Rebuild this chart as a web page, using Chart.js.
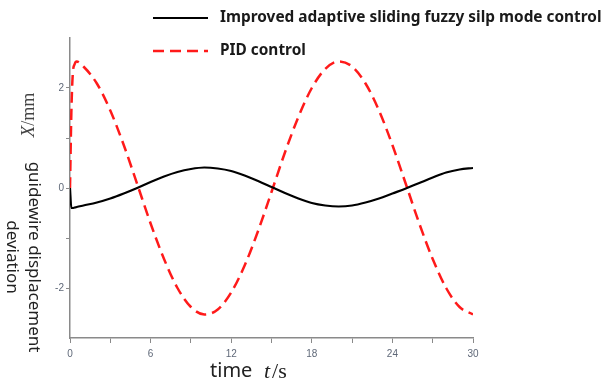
<!DOCTYPE html>
<html>
<head>
<meta charset="utf-8">
<script src="https://cdn.jsdelivr.net/npm/chart.js@4.4.1/dist/chart.umd.min.js"></script>
<style>
    html, body { margin: 0; padding: 0; background: #ffffff; }
    #wrap { width: 607px; height: 385px; position: relative; }
</style>
</head>
<body>
<div id="wrap"><canvas id="deviation-chart"></canvas></div>
<script>
// tempo (s)
var timeValues = [0, 0.1, 0.2, 0.35, 0.5, 1, 2, 3, 4, 5, 6, 7, 8, 9, 10,
    11, 12, 13, 14, 15, 16, 17, 18, 19, 20, 21, 22, 23, 24, 25, 26, 27, 28, 29, 30];

// desvio (mm) - controle melhorado
var smcValues = [0, -0.40, -0.40, -0.39, -0.38, -0.35, -0.29, -0.21, -0.11, 0.0, 0.12, 0.23, 0.32, 0.38, 0.41,
    0.39, 0.34, 0.25, 0.14, 0.02, -0.10, -0.21, -0.30, -0.35, -0.37, -0.35, -0.29, -0.21, -0.11, -0.01, 0.10, 0.21, 0.31, 0.37, 0.40];

// desvio (mm) - controle PID
var pidValues = [0, 1.5, 2.25, 2.48, 2.53, 2.43, 2.09, 1.55, 0.86, 0.08, -0.71, -1.42, -2.00, -2.38, -2.53,
    -2.43, -2.09, -1.55, -0.86, -0.08, 0.71, 1.42, 2.00, 2.38, 2.53, 2.43, 2.09, 1.55, 0.86, 0.08, -0.71, -1.42, -2.00, -2.38, -2.53];

var seriesLabels = ['Improved adaptive sliding fuzzy silp mode control', 'PID control'];
var xTicks = [0, 3, 6, 9, 12, 15, 18, 21, 24, 27, 30];
var xLabelled = [0, 6, 12, 18, 24, 30];
var yTicks = [-2, -1, 0, 1, 2];
var yLabelled = [-2, 0, 2];

/**
 * Junta tempo e valores em pontos {x, y}
 * @param {array} values
 */
function toPoints(values) {
    return values.map(function(v, i) {
        return { x: timeValues[i], y: v };
    });
}

/**
 * Legenda em duas linhas, alinhada como no original
 */
var legendPlugin = {
    id: 'stackedLegend',
    afterDraw: function(chart) {
        let ctx = chart.ctx;
        let rows = [18, 51];
        ctx.save();
        chart.data.datasets.forEach(function(ds, i) {
            ctx.beginPath();
            ctx.strokeStyle = ds.borderColor;
            ctx.lineWidth = ds.borderWidth;
            ctx.setLineDash(ds.borderDash || []);
            ctx.moveTo(153, rows[i]);
            ctx.lineTo(208, rows[i]);
            ctx.stroke();
            ctx.setLineDash([]);
            ctx.fillStyle = '#1a1a1a';
            ctx.font = 'bold 15.4px "Noto Sans"';
            ctx.textBaseline = 'middle';
            ctx.textAlign = 'left';
            ctx.fillText(ds.label, 220, rows[i]);
        });
        ctx.restore();
    }
};

/**
 * Títulos dos eixos (rotacionados em sentidos diferentes)
 */
var titlesPlugin = {
    id: 'axisTitles',
    afterDraw: function(chart) {
        let ctx = chart.ctx;
        ctx.save();
        ctx.fillStyle = '#222';
        ctx.textBaseline = 'middle';

        // X/mm, de baixo para cima
        ctx.save();
        ctx.translate(29, 115);
        ctx.rotate(-Math.PI / 2);
        ctx.font = 'italic 19px "Liberation Serif"';
        let wX = ctx.measureText('X').width;
        ctx.font = '18px "Liberation Serif"';
        let wMm = ctx.measureText('/mm').width;
        let start = -(wX + wMm) / 2;
        ctx.textAlign = 'left';
        ctx.font = 'italic 19px "Liberation Serif"';
        ctx.fillStyle = '#444';
        ctx.fillText('X', start, 0);
        ctx.font = '18px "Liberation Serif"';
        ctx.fillText('/mm', start + wX, 0);
        ctx.restore();

        // guidewire displacement deviation, de cima para baixo
        ctx.save();
        ctx.translate(34, 257);
        ctx.rotate(Math.PI / 2);
        ctx.textAlign = 'center';
        ctx.font = '17px "Noto Sans"';
        ctx.fillText('guidewire displacement', 0, 0);
        ctx.fillText('deviation', 0, 22);
        ctx.restore();

        // time t/s
        ctx.textBaseline = 'alphabetic';
        ctx.textAlign = 'left';
        ctx.font = '20px "Noto Sans"';
        ctx.fillText('time', 210, 377);
        ctx.font = 'italic 22px "Liberation Serif"';
        ctx.fillText('t', 264, 378);
        let wt = ctx.measureText('t').width;
        ctx.font = '22px "Liberation Serif"';
        ctx.fillText('/s', 266 + wt, 378);
        ctx.restore();
    }
};

var chart = new Chart(document.getElementById('deviation-chart'), {
    type: 'line',
    data: {
        datasets: [{
            label: seriesLabels[0],
            data: toPoints(smcValues),
            borderColor: '#000000',
            borderWidth: 2.2,
            pointRadius: 0,
            cubicInterpolationMode: 'monotone',
            fill: false
        }, {
            label: seriesLabels[1],
            data: toPoints(pidValues),
            borderColor: '#ff1a1a',
            borderWidth: 2.5,
            borderDash: [11, 6],
            pointRadius: 0,
            cubicInterpolationMode: 'monotone',
            fill: false
        }]
    },
    options: {
        responsive: true,
        maintainAspectRatio: false,
        animation: false,
        layout: { padding: { left: 0, right: 134, top: 38, bottom: 0 } },
        plugins: {
            legend: { display: false },
            tooltip: { enabled: false }
        },
        scales: {
            x: {
                type: 'linear',
                min: 0,
                max: 30,
                afterBuildTicks: function(scale) {
                    scale.ticks = xTicks.map(function(v) { return { value: v }; });
                },
                afterFit: function(scale) { scale.height = 47; },
                border: { display: true, color: '#8a8a8a', width: 1.5 },
                grid: { drawOnChartArea: false, drawTicks: true, tickLength: 5, color: '#8a8a8a' },
                ticks: {
                    autoSkip: false,
                    maxRotation: 0,
                    padding: 5,
                    color: '#5f6878',
                    font: { size: 10, family: 'Liberation Sans' },
                    callback: function(v) { return xLabelled.indexOf(v) >= 0 ? String(v) : ''; }
                }
            },
            y: {
                min: -3,
                max: 3,
                afterBuildTicks: function(scale) {
                    scale.ticks = yTicks.map(function(v) { return { value: v }; });
                },
                afterFit: function(scale) { scale.width = 70; },
                border: { display: true, color: '#8a8a8a', width: 1.5 },
                grid: { drawOnChartArea: false, drawTicks: true, tickLength: 4, color: '#8a8a8a' },
                ticks: {
                    padding: 2,
                    color: '#5f6878',
                    font: { size: 10, family: 'Liberation Sans' },
                    callback: function(v) { return yLabelled.indexOf(v) >= 0 ? String(v) : ''; }
                }
            }
        }
    },
    plugins: [legendPlugin, titlesPlugin]
});
</script>
</body>
</html>
